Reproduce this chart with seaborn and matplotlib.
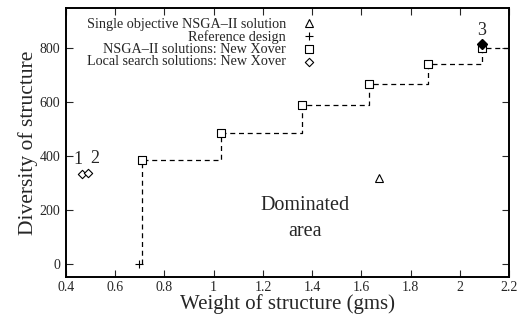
import matplotlib
matplotlib.use("Agg")
import matplotlib.pyplot as plt
import seaborn as sns
import pandas as pd

# data
nsga_w = [0.71, 1.03, 1.36, 1.63, 1.87, 2.09]
nsga_d = [385, 487, 588, 668, 740, 800]
local_w = [0.465, 0.49]
local_d = [332, 338]
single_w = [1.67]
single_d = [320]
ref_w = [0.695]
ref_d = [0]
best_w = [2.09]
best_d = [815]
# step line: from reference design up through the front to the right edge
step_w = [0.71] + nsga_w + [2.2]
step_d = [0] + nsga_d + [800]

front = pd.DataFrame({"w": nsga_w, "d": nsga_d})
local = pd.DataFrame({"w": local_w, "d": local_d})

sns.set_style("ticks")
plt.rcParams["font.family"] = ["Liberation Serif", "DejaVu Serif"]

fig = plt.figure(figsize=(5.32, 3.16), dpi=100)
ax = fig.add_axes([0.124, 0.123, 0.833, 0.852])

ax.plot(step_w, step_d, drawstyle="steps-post", ls=(0, (4, 3)), color="black", lw=0.9)
ax.plot(single_w, single_d, ls="none", marker="^", mfc="white", mec="black", ms=6, mew=0.8,
        label="Single objective NSGA\u2013II solution")
ax.plot(ref_w, ref_d, ls="none", marker="+", color="black", ms=6, mew=0.8, label="Reference design")
sns.scatterplot(data=front, x="w", y="d", marker="s", facecolor="white", edgecolor="black",
                s=26, linewidth=0.8, ax=ax, label="NSGA\u2013II solutions: New Xover", zorder=3)
sns.scatterplot(data=local, x="w", y="d", marker="D", facecolor="white", edgecolor="black",
                s=18, linewidth=0.8, ax=ax, label="Local search solutions: New Xover", zorder=3)
ax.plot(best_w, best_d, ls="none", marker="D", color="black", ms=5, zorder=4)

ax.text(0.45, 355, "1", fontsize=13, ha="center", va="bottom")
ax.text(0.515, 360, "2", fontsize=13, ha="center", va="bottom")
ax.text(2.09, 835, "3", fontsize=13, ha="center", va="bottom")
ax.text(1.37, 215, "Dominated", fontsize=14.5, ha="center", va="center")
ax.text(1.37, 120, "area", fontsize=14.5, ha="center", va="center")

ax.set_xlim(0.4, 2.2)
ax.set_ylim(-50, 950)
ax.set_xticks([0.4, 0.6, 0.8, 1, 1.2, 1.4, 1.6, 1.8, 2, 2.2])
ax.set_xticklabels(["0.4", "0.6", "0.8", "1", "1.2", "1.4", "1.6", "1.8", "2", "2.2"])
ax.set_yticks([0, 200, 400, 600, 800])
ax.tick_params(direction="in", top=True, right=True, labelsize=10, length=5, width=0.8, pad=4)
ax.tick_params(axis="x", pad=3)
ax.set_xlabel("Weight of structure (gms)", fontsize=15, labelpad=0)
ax.set_ylabel("Diversity of structure", fontsize=15.5, labelpad=1)
for s in ax.spines.values():
    s.set_linewidth(1.4)
    s.set_color("black")

leg = ax.legend(loc="upper left", bbox_to_anchor=(0.025, 1.0), markerfirst=False, frameon=False,
                fontsize=10.2, handlelength=1.0, handletextpad=1.1, labelspacing=-0.05, borderaxespad=0.3)

fig.savefig("out.png", dpi=100)
